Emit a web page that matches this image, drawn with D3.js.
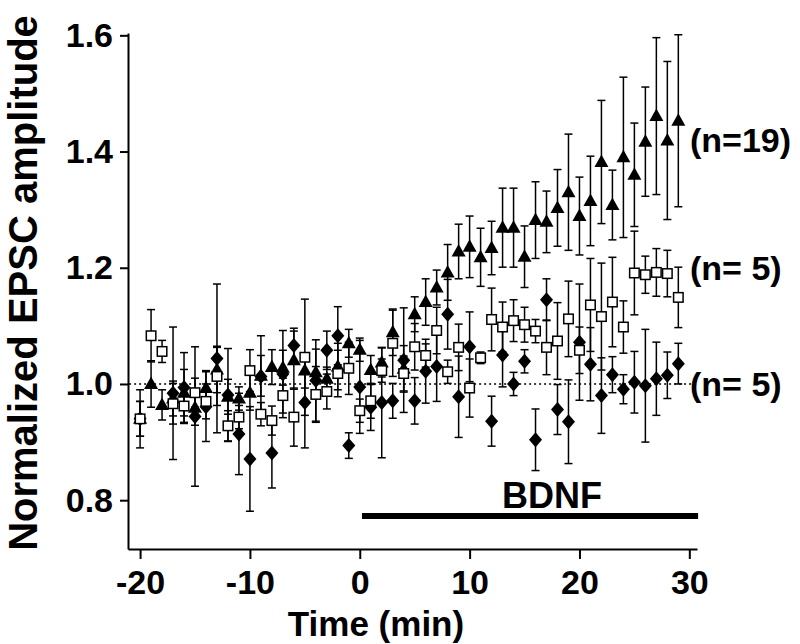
<!DOCTYPE html>
<meta charset="utf-8">
<title>Normalized EPSC amplitude - BDNF</title>
<style>

body {
  margin: 0;
  background: #fff;
}

.axis path,
.axis line {
  fill: none;
  stroke: #000;
  stroke-width: 2px;
}

.axis text {
  fill: #000;
  font: bold 34px "Liberation Sans", Arial, sans-serif;
}

.label {
  font: bold 36px "Liberation Sans", Arial, sans-serif;
  fill: #000;
}

.err {
  stroke: #000;
  stroke-width: 1.5px;
}

</style>
<body>
<svg width="800" height="644"></svg>

<script src="https://d3js.org/d3.v7.min.js"></script>
<script>

// time (min) of each sample
var time = [-20,-19,-18,-17,-16,-15,-14,-13,-12,-11,-10,-9,-8,-7,-6,-5,-4,-3,-2,-1,
            0,1,2,3,4,5,6,7,8,9,10,11,12,13,14,15,16,17,18,19,20,21,22,23,24,25,26,27,28,29];

// filled triangles (n=19)
var triMean = [0.94,1.00,0.964,0.975,0.985,0.959,0.993,1.025,0.978,0.975,0.985,1.014,1.029,1.028,1.041,1.023,1.02,1.009,1.03,1.07,
               1.059,1.024,1.037,1.089,1.026,1.12,1.141,1.166,1.192,1.228,1.236,1.218,1.234,1.269,1.269,1.219,1.282,1.279,1.303,1.33,
               1.289,1.315,1.382,1.308,1.39,1.36,1.417,1.461,1.419,1.453];
var triErr  = [0.05,0.04,0.026,0.03,0.04,0.03,0.03,0.04,0.03,0.02,0.03,0.035,0.03,0.03,0.05,0.03,0.04,0.02,0.04,0.024,
               0.02,0.025,0.025,0.04,0.04,0.03,0.04,0.03,0.048,0.047,0.053,0.05,0.046,0.068,0.068,0.053,0.066,0.053,0.066,0.1,
               0.067,0.077,0.106,0.06,0.138,0.089,0.094,0.135,0.136,0.148];

// open squares (n= 5, upper)
var sqMean = [0.94,1.083,1.056,0.966,0.962,0.985,0.97,1.013,0.928,0.943,1.023,0.948,0.937,0.98,0.943,1.046,0.982,0.987,1.018,1.027,
              0.954,0.971,1.023,1.07,1.018,1.064,1.049,1.092,1.021,1.063,0.993,1.045,1.111,1.098,1.109,1.102,1.091,1.063,1.074,1.112,
              1.058,1.136,1.116,1.141,1.098,1.191,1.188,1.192,1.19,1.149];
var sqErr  = [0.03,0.045,0.019,0.035,0.03,0.025,0.03,0.05,0.026,0.02,0.036,0.02,0.025,0.03,0.05,0.1,0.048,0.03,0.04,0.045,
              0.02,0.03,0.02,0.057,0.03,0.04,0.02,0.04,0.02,0.04,0.05,0.01,0.054,0.043,0.036,0.03,0.02,0.047,0.066,0.065,
              0.04,0.08,0.092,0.077,0.045,0.072,0.032,0.041,0.04,0.052];

// filled diamonds (n= 5, lower)
var diaMean = [0.94,null,null,0.984,0.994,0.944,0.961,1.044,0.981,0.914,0.871,1.013,0.881,1.017,1.066,0.968,1.006,1.058,1.083,0.894,
               0.995,0.96,0.968,0.971,1.041,0.971,1.022,1.03,1.12,0.978,1.064,null,0.936,1.05,1.0,1.039,0.904,1.145,0.956,0.935,
               1.072,1.034,0.98,1.016,0.991,1.003,0.997,1.009,1.015,1.035];
var diaErr  = [0.03,0,0,0.114,0.06,0.12,0.06,0.128,0.08,0.07,0.09,0.07,0.06,0.075,0.03,0.078,0.07,0.033,0.05,0.022,
               0.08,0.04,0.095,0.03,0.09,0.04,0.055,0.06,0.06,0.07,0.06,0,0.043,0.055,0.02,0.02,0.053,0.036,0.043,0.072,
               0.1,0.063,0.065,0.031,0.025,0.053,0.097,0.063,0.04,0.035];

var xTicks = [-20,-10,0,10,20,30];
var yTicks = [0.8,1.0,1.2,1.4,1.6];
var nLabels = ["(n=19)", "(n= 5)", "(n= 5)"];
var nLabelAt = [1.42, 1.2, 1.0];
var bdnfPeriod = [0.2, 30.8];

var svg = d3.select("svg");

var x = d3.scaleLinear()
    .domain([-21.1, 30.7])
    .range([128, 697]);

var y = d3.scaleLinear()
    .domain([0.716, 1.604])
    .range([549, 33]);

svg.append("g")
    .attr("class", "x axis")
    .attr("transform", "translate(0,549)")
    .call(d3.axisBottom(x).tickValues(xTicks).tickFormat(function(d) { return String(d); })
      .tickSize(10).tickSizeOuter(0).tickPadding(11));

svg.append("g")
    .attr("class", "y axis")
    .attr("transform", "translate(128,0)")
    .call(d3.axisLeft(y).tickValues(yTicks).tickFormat(d3.format(".1f")).tickSize(8).tickSizeOuter(0).tickPadding(7));

svg.append("text")
    .attr("class", "label")
    .attr("x", 376)
    .attr("y", 636)
    .attr("text-anchor", "middle")
    .style("font-size", "35px")
    .text("Time (min)");

svg.append("text")
    .attr("class", "label")
    .attr("transform", "translate(37,283) rotate(-90)")
    .attr("text-anchor", "middle")
    .style("font-size", "40px")
    .text("Normalized EPSC amplitude");

// baseline
svg.append("line")
    .attr("x1", x(-21)).attr("x2", x(30.7))
    .attr("y1", y(1)).attr("y2", y(1))
    .attr("stroke", "#000")
    .attr("stroke-width", 1.5)
    .attr("stroke-dasharray", "2,3");

// BDNF application bar
svg.append("line")
    .attr("x1", x(bdnfPeriod[0])).attr("x2", x(bdnfPeriod[1]))
    .attr("y1", 516).attr("y2", 516)
    .attr("stroke", "#000")
    .attr("stroke-width", 6);

svg.append("text")
    .attr("class", "label")
    .attr("x", 552)
    .attr("y", 508)
    .attr("text-anchor", "middle")
    .style("font-size", "36px")
    .text("BDNF");

function series(mean, err) {
  return time.map(function(t, i) { return {t: t, m: mean[i], e: err[i]}; })
    .filter(function(d) { return d.m !== null; });
}

function errorBars(data) {
  var g = svg.append("g").attr("class", "err");
  data.forEach(function(d) {
    var cx = x(d.t), y0 = y(d.m - d.e), y1 = y(d.m + d.e);
    g.append("line").attr("x1", cx).attr("x2", cx).attr("y1", y0).attr("y2", y1);
    g.append("line").attr("x1", cx - 4).attr("x2", cx + 4).attr("y1", y0).attr("y2", y0);
    g.append("line").attr("x1", cx - 4).attr("x2", cx + 4).attr("y1", y1).attr("y2", y1);
  });
}

var tri = series(triMean, triErr),
    sq = series(sqMean, sqErr),
    dia = series(diaMean, diaErr);

errorBars(tri);
errorBars(dia);
errorBars(sq);

svg.selectAll(".tri")
    .data(tri)
  .enter().append("path")
    .attr("class", "tri")
    .attr("d", "M0,-7.5L7,5L-7,5Z")
    .attr("transform", function(d) { return "translate(" + x(d.t) + "," + y(d.m) + ")"; })
    .attr("fill", "#000");

svg.selectAll(".dia")
    .data(dia)
  .enter().append("path")
    .attr("class", "dia")
    .attr("d", "M0,-7.5L6.5,0L0,7.5L-6.5,0Z")
    .attr("transform", function(d) { return "translate(" + x(d.t) + "," + y(d.m) + ")"; })
    .attr("fill", "#000");

svg.selectAll(".sq")
    .data(sq)
  .enter().append("rect")
    .attr("class", "sq")
    .attr("x", function(d) { return x(d.t) - 4.75; })
    .attr("y", function(d) { return y(d.m) - 4.75; })
    .attr("width", 9.5)
    .attr("height", 9.5)
    .attr("fill", "#fff")
    .attr("stroke", "#000")
    .attr("stroke-width", 1.5);

svg.selectAll(".nlab")
    .data(nLabels)
  .enter().append("text")
    .attr("class", "label")
    .attr("x", 690)
    .attr("y", function(d, i) { return y(nLabelAt[i]); })
    .attr("dy", "0.35em")
    .style("font-size", "34px")
    .text(function(d) { return d; });

</script>
</body>
